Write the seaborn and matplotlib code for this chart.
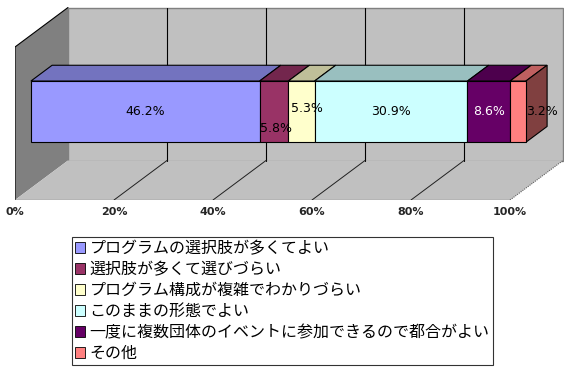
import numpy as np
import matplotlib
matplotlib.use("Agg")
import matplotlib.pyplot as plt
import seaborn as sns
from matplotlib.patches import Polygon, Patch

categories = ["プログラムの選択肢が多くてよい",
              "選択肢が多くて選びづらい",
              "プログラム構成が複雑でわかりづらい",
              "このままの形態でよい",
              "一度に複数団体のイベントに参加できるので都合がよい",
              "その他"]
values = [46.2, 5.8, 5.3, 30.9, 8.6, 3.2]
colors = ["#9999FF", "#993366", "#FFFFCC", "#CCFFFF", "#660066", "#FF8080"]
label_colors = ["black", "black", "black", "black", "white", "black"]
tick_values = [0, 20, 40, 60, 80, 100]
tick_labels = ["0%", "20%", "40%", "60%", "80%", "100%"]

# label nudges in pixels (excel moves the crowded ones)
label_nudge = [(0, 0), (2, -17), (6, 3), (0, 0), (0, 0), (24, 0)]

sns.set_theme(style="white")
plt.rcParams["font.family"] = ["Noto Sans CJK JP", "DejaVu Sans"]

W, H = 578, 370
fig = plt.figure(figsize=(W / 100, H / 100), dpi=100)
fig.patch.set_facecolor("white")

px_per_pct = 4.95
front_h = 153.0
ax = fig.add_axes([15 / W, 170 / H, 549 / W, 193 / H])
ax.set_xlim(0, 549 / px_per_pct)
ax.set_ylim(0, 193 / front_h)

DX = 53 / px_per_pct
DY = 39.5 / front_h


def shift(x, y, d):
    return (x + DX * d, y + DY * d)


# walls and floor
ax.add_patch(Polygon([shift(0, 0, 1), shift(100, 0, 1), shift(100, 1, 1), shift(0, 1, 1)],
                     closed=True, facecolor="#C0C0C0", edgecolor="#808080", lw=1, zorder=1))
ax.add_patch(Polygon([(0, 0), shift(0, 0, 1), shift(0, 1, 1), (0, 1)],
                     closed=True, facecolor="#808080", edgecolor="none", zorder=1))
ax.add_patch(Polygon([(0, 0), (100, 0), shift(100, 0, 1), shift(0, 0, 1)],
                     closed=True, facecolor="#C0C0C0", edgecolor="none", zorder=1))
ax.plot([0, 0, DX], [0, 1, 1 + DY], color="black", lw=0.8, zorder=2)
ax.plot([0, 100], [0, 0], color="black", lw=0.8, zorder=2)
ax.plot([100, 100 + DX], [0, DY], color="#606060", lw=0.8, ls=(0, (1, 1)), zorder=2)
for t in tick_values[1:-1]:
    ax.plot([t + DX, t + DX], [DY, 1 + DY], color="black", lw=0.8, zorder=2)
    ax.plot([t, t + DX], [0, DY], color="#202020", lw=0.7, zorder=2)

# the bar
d0, d1 = 0.3, 0.7
y0, y1 = 0.3, 0.7
lefts = np.concatenate([[0], np.cumsum(values)[:-1]])
rights = lefts + np.array(values)

for l, r, c in zip(lefts, rights, colors):
    top = np.array(matplotlib.colors.to_rgb(c)) * 0.75
    ax.add_patch(Polygon([shift(l, y1, d0), shift(r, y1, d0), shift(r, y1, d1), shift(l, y1, d1)],
                         closed=True, facecolor=top, edgecolor="black", lw=0.8, zorder=3))

side = np.array(matplotlib.colors.to_rgb(colors[-1])) * 0.5
ax.add_patch(Polygon([shift(rights[-1], y0, d0), shift(rights[-1], y1, d0),
                      shift(rights[-1], y1, d1), shift(rights[-1], y0, d1)],
                     closed=True, facecolor=side, edgecolor="black", lw=0.8, zorder=3))

ax.barh(y=(y0 + y1) / 2 + DY * d0, width=values, left=lefts + DX * d0, height=y1 - y0,
        color=colors, edgecolor="black", linewidth=0.8, zorder=4)

for l, v, tc, (nx, ny) in zip(lefts, values, label_colors, label_nudge):
    ax.annotate(f"{v}%", xy=shift(l + v / 2, (y0 + y1) / 2, d0),
                xytext=(nx * 0.72, ny * 0.72), textcoords="offset points",
                ha="center", va="center", fontsize=9, color=tc,
                family="DejaVu Sans", zorder=6)

ax.set_xticks(tick_values)
ax.set_xticklabels(tick_labels, fontsize=8, fontweight="bold", family="DejaVu Sans")
ax.set_yticks([])
ax.tick_params(axis="x", length=0, pad=5)
for s in ax.spines.values():
    s.set_visible(False)
ax.set_facecolor("none")

handles = [Patch(facecolor=c, edgecolor="black", linewidth=0.6) for c in colors]
leg = fig.legend(handles, categories, loc="upper left",
                 bbox_to_anchor=(72 / W, 1 - 237 / H), borderaxespad=0,
                 fontsize=11.5, frameon=True, fancybox=False, shadow=False,
                 handlelength=0.6, handleheight=0.6, handletextpad=0.3,
                 labelspacing=0.25, borderpad=0.2)
leg.get_frame().set_edgecolor("black")
leg.get_frame().set_linewidth(0.8)
for txt in leg.get_texts():
    txt.set_color("black")

fig.savefig("out.png", dpi=100)
